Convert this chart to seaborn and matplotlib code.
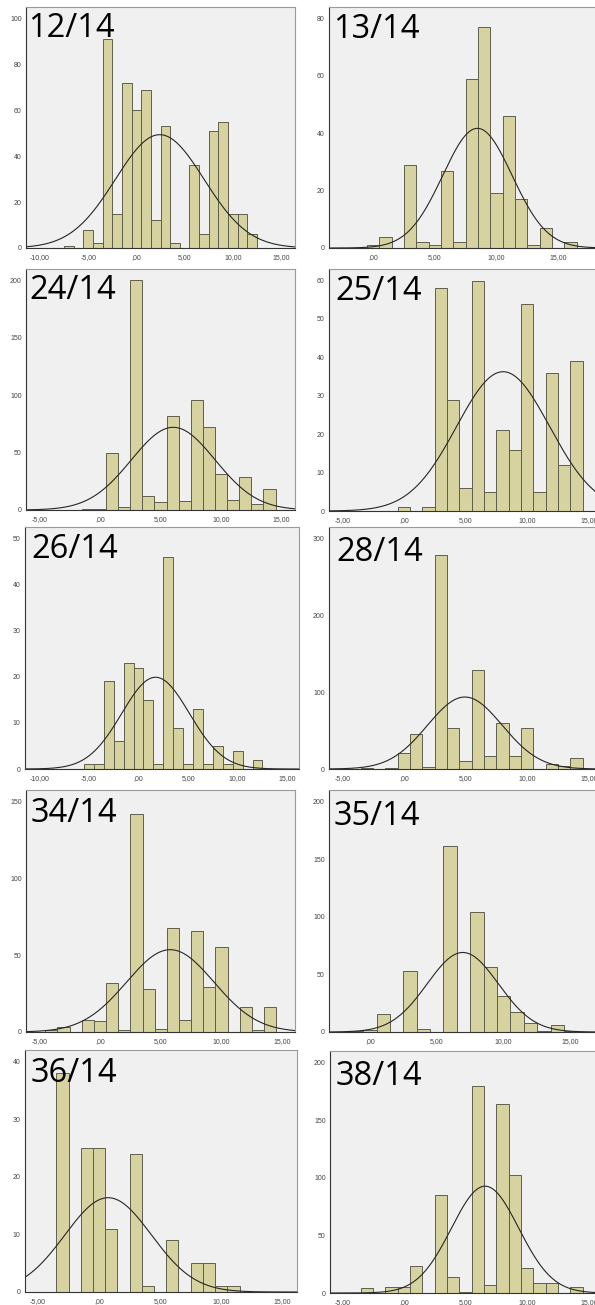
"""
SPSS-style grid of ten histograms with fitted normal curves (scores per class, 2014).
Saves out.png at 595x1305 px.
"""
import matplotlib
matplotlib.use("Agg")
import matplotlib.pyplot as plt
import numpy as np
import pandas as pd
import seaborn as sns

W, H = 595, 1305
DPI = 100

LABELS = ["12/14", "13/14", "24/14", "25/14", "26/14",
          "28/14", "34/14", "35/14", "36/14", "38/14"]

# bin centres (bin width 1) and counts
BINS_12 = [-7, -5, -4, -3, -2, -1, 0, 1, 2, 3, 4, 6, 7, 8, 9, 10, 11, 12]
COUNTS_12 = [1, 8, 2, 91, 15, 72, 60, 69, 12, 53, 2, 36, 6, 51, 55, 15, 15, 6]

BINS_13 = [0, 1, 3, 4, 5, 6, 7, 8, 9, 10, 11, 12, 13, 14, 16]
COUNTS_13 = [1, 4, 29, 2, 1, 27, 2, 59, 77, 19, 46, 17, 1, 7, 2]

BINS_24 = [-1, 0, 1, 2, 3, 4, 5, 6, 7, 8, 9, 10, 11, 12, 13, 14]
COUNTS_24 = [1, 1, 50, 3, 200, 12, 7, 82, 8, 96, 72, 31, 9, 29, 5, 18]

BINS_25 = [0, 2, 3, 4, 5, 6, 7, 8, 9, 10, 11, 12, 13, 14]
COUNTS_25 = [1, 1, 58, 29, 6, 60, 5, 21, 16, 54, 5, 36, 12, 39]

BINS_26 = [-5, -4, -3, -2, -1, 0, 1, 2, 3, 4, 5, 6, 7, 8, 9, 10, 12]
COUNTS_26 = [1, 1, 19, 6, 23, 22, 15, 1, 46, 9, 1, 13, 1, 5, 1, 4, 2]

BINS_28 = [-3, -1, 0, 1, 2, 3, 4, 5, 6, 7, 8, 9, 10, 12, 13, 14]
COUNTS_28 = [1, 1, 21, 46, 2, 278, 54, 10, 129, 17, 60, 17, 53, 6, 4, 14]

BINS_34 = [-4, -3, -1, 0, 1, 2, 3, 4, 5, 6, 7, 8, 9, 10, 12, 13, 14]
COUNTS_34 = [1, 3, 8, 7, 32, 1, 142, 28, 2, 68, 8, 66, 29, 55, 16, 1, 16]

BINS_35 = [-1, 0, 1, 3, 4, 6, 8, 9, 10, 11, 12, 13, 14, 15]
COUNTS_35 = [1, 2, 16, 53, 3, 161, 104, 56, 31, 17, 8, 1, 6, 1]

BINS_36 = [-3, -1, 0, 1, 3, 4, 6, 8, 9, 10, 11]
COUNTS_36 = [38, 25, 25, 11, 24, 1, 9, 5, 5, 1, 1]

BINS_38 = [-3, -1, 0, 1, 3, 4, 5, 6, 7, 8, 9, 10, 11, 12, 14]
COUNTS_38 = [4, 5, 5, 23, 85, 14, 1, 180, 7, 164, 102, 22, 9, 9, 5]

BINS = [BINS_12, BINS_13, BINS_24, BINS_25, BINS_26,
        BINS_28, BINS_34, BINS_35, BINS_36, BINS_38]
COUNTS = [COUNTS_12, COUNTS_13, COUNTS_24, COUNTS_25, COUNTS_26,
          COUNTS_28, COUNTS_34, COUNTS_35, COUNTS_36, COUNTS_38]

# axis ranges and y tick step of each panel
XLIMS = [(-11.45, 16.45), (-3.57, 18.4), (-6.1, 16.1), (-6.08, 15.9), (-11.44, 16.18),
         (-6.08, 15.9), (-6.09, 16.05), (-3.06, 17.2), (-6.06, 16.2), (-6.0, 15.9)]
YLIMS = [105, 84, 210, 63, 52.5, 315, 157.5, 210, 42, 210]
YSTEPS = [20, 20, 50, 10, 10, 100, 50, 50, 10, 50]

# layout in pixels: frame (left, right, top, bottom) and label (x, baseline)
FRAMES = [(26, 295, 7, 248), (329, 600, 7, 248),
          (26, 295, 269, 510), (329, 600, 269, 511),
          (25, 299, 527, 769), (329, 600, 527, 769),
          (26, 295, 790, 1032), (329, 600, 790, 1032),
          (25, 297, 1050, 1292), (330, 600, 1051, 1293)]
LABEL_POS = [(28, 37), (333, 38), (29, 299), (335, 300), (31, 558),
             (336, 561), (31, 822), (334, 825), (31, 1082), (336, 1085)]

BG = "#F0F0F0"
BAR = "#D7D3A0"
EDGE = "#5E5E4E"


def fmt_x(v):
    s = f"{v:.2f}".replace(".", ",")
    return s[1:] if s.startswith("0,") else s


def draw_panel(fig, i):
    l, r, t, b = FRAMES[i]
    ax = fig.add_axes([l / W, 1 - b / H, (r - l) / W, (b - t) / H])
    ax.set_facecolor(BG)

    df = pd.DataFrame({"score": BINS[i], "n": COUNTS[i]})
    lo, hi = df["score"].min() - 0.5, df["score"].max() + 0.5
    sns.histplot(data=df, x="score", weights="n", binwidth=1, binrange=(lo, hi),
                 ax=ax, color=BAR, edgecolor=EDGE, linewidth=0.7, alpha=1)

    # normal curve fitted to the same data (SPSS overlay)
    n = df["n"].sum()
    mu = np.average(df["score"], weights=df["n"])
    sd = np.sqrt(np.sum(df["n"] * (df["score"] - mu) ** 2) / (n - 1))
    xs = np.linspace(XLIMS[i][0], XLIMS[i][1], 400)
    ys = n * np.exp(-0.5 * ((xs - mu) / sd) ** 2) / (sd * np.sqrt(2 * np.pi))
    ax.plot(xs, ys, color="#262626", linewidth=0.8)

    ax.set_xlim(*XLIMS[i])
    ax.set_ylim(0, YLIMS[i])
    ax.set_xlabel("")
    ax.set_ylabel("")

    start = int(np.ceil(XLIMS[i][0] / 5.0)) * 5
    xt = np.arange(start, XLIMS[i][1] + 0.01, 5)
    ax.set_xticks(xt)
    ax.set_xticklabels([fmt_x(v) for v in xt])
    yt = np.arange(0, YLIMS[i] + 0.01, YSTEPS[i])
    ax.set_yticks(yt)
    ax.set_yticklabels([f"{int(v)}" for v in yt])

    ax.tick_params(axis="both", direction="out", length=1.6, width=0.6,
                   colors="#444444", labelsize=5, pad=1.5)
    ax.tick_params(axis="x", pad=2.5)
    ax.grid(False)
    for side in ("left", "bottom"):
        ax.spines[side].set_color("#333333")
        ax.spines[side].set_linewidth(0.8)
    for side in ("top", "right"):
        ax.spines[side].set_color("#9A9A9A")
        ax.spines[side].set_linewidth(0.8)

    x, y = LABEL_POS[i]
    fig.text(x / W, 1 - y / H, LABELS[i], fontsize=23.5, family="Open Sans",
             color="black", ha="left", va="baseline")


def main():
    sns.set_style("white")
    plt.rcParams["font.family"] = ["Liberation Sans", "DejaVu Sans"]
    fig = plt.figure(figsize=(W / DPI, H / DPI), dpi=DPI)
    fig.patch.set_facecolor("white")
    for i in range(len(LABELS)):
        draw_panel(fig, i)
    fig.savefig("out.png", dpi=DPI)
    plt.close(fig)


if __name__ == "__main__":
    main()
